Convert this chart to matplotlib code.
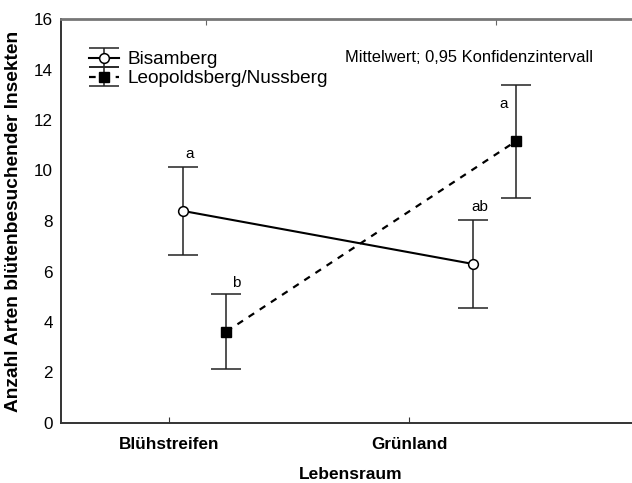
import matplotlib
matplotlib.use('Agg')
import matplotlib.pyplot as plt
import numpy as np

plt.rcParams['font.family'] = ['Liberation Sans', 'DejaVu Sans']

# data (mean, upper/lower 95% CI)
categories = ['Blühstreifen', 'Grünland']
bis_mean = [8.40, 6.30]
bis_upper = [10.15, 8.04]
bis_lower = [6.65, 4.55]
leo_mean = [3.62, 11.17]
leo_upper = [5.12, 13.40]
leo_lower = [2.15, 8.90]
bis_letters = ['a', 'ab']
leo_letters = ['b', 'a']

x = np.arange(len(categories))
x_bis = x - 0.08
x_leo = x + 0.07

fig = plt.figure(figsize=(6.32, 4.83), dpi=100)
ax = fig.add_axes([61 / 632, 60 / 483, 580 / 632, 404 / 483])

bis_err = [np.subtract(bis_mean, bis_lower), np.subtract(bis_upper, bis_mean)]
leo_err = [np.subtract(leo_mean, leo_lower), np.subtract(leo_upper, leo_mean)]

h1 = ax.errorbar(x_bis, bis_mean, yerr=bis_err, fmt='-o', color='black', lw=1.5,
                 ecolor='#222222', elinewidth=1.1, capsize=10.8, capthick=1.1,
                 mfc='white', mec='black', ms=7, mew=1.1, label='Bisamberg')
h2 = ax.errorbar(x_leo, leo_mean, yerr=leo_err, fmt='s', ls=(0, (3, 3)), color='black', lw=1.6,
                 ecolor='#222222', elinewidth=1.1, capsize=10.8, capthick=1.1,
                 mfc='black', mec='black', ms=7, label='Leopoldsberg/Nussberg')

for xi, top, lab in zip(x_bis, bis_upper, bis_letters):
    ax.annotate(lab, (xi, top), xytext=(5, 9), textcoords='offset points',
                ha='center', va='center', fontsize=11)
ax.annotate(leo_letters[0], (x_leo[0], leo_upper[0]), xytext=(7, 8), textcoords='offset points',
            ha='center', va='center', fontsize=11)
ax.annotate(leo_letters[1], (x_leo[1], leo_upper[1]), xytext=(-9, -14), textcoords='offset points',
            ha='center', va='center', fontsize=11)

ax.set_xlim(-0.5, 1.5)
ax.set_ylim(0, 16)
ax.set_yticks(np.arange(0, 17, 2))
ax.tick_params(axis='y', length=0, labelsize=12.3, pad=6)
# bottom tick labels sit left of the category centres in the original
ax.set_xticks(x - np.array([0.128, 0.30]))
ax.set_xticklabels(categories, fontweight='bold', fontsize=12.3)
ax.tick_params(axis='x', direction='in', length=4, pad=10, color='#333333')

top = ax.secondary_xaxis('top')
top.set_xticks(x)
top.set_xticklabels([])
top.tick_params(direction='in', length=4, color='#666666')
for s in top.spines.values():
    s.set_visible(False)

ax.set_xlabel('Lebensraum', fontweight='bold', fontsize=12.5, labelpad=11)
ax.set_ylabel('Anzahl Arten blütenbesuchender Insekten', fontweight='bold', fontsize=13.8, labelpad=8)

for s in ['left', 'bottom']:
    ax.spines[s].set_color('#333333')
    ax.spines[s].set_linewidth(1.4)
ax.spines['top'].set_color('#777777')
ax.spines['top'].set_linewidth(2)
ax.spines['right'].set_visible(False)

ax.legend(handles=[h1, h2], loc='upper left', bbox_to_anchor=(0.035, 0.94), frameon=False,
          fontsize=13.7, handlelength=1.6, handletextpad=0.45, labelspacing=0.1, borderaxespad=0)

ax.text(0.49, 0.905, 'Mittelwert; 0,95 Konfidenzintervall', transform=ax.transAxes,
        fontsize=11.9, ha='left', va='center')

fig.savefig('out.png', dpi=100)
